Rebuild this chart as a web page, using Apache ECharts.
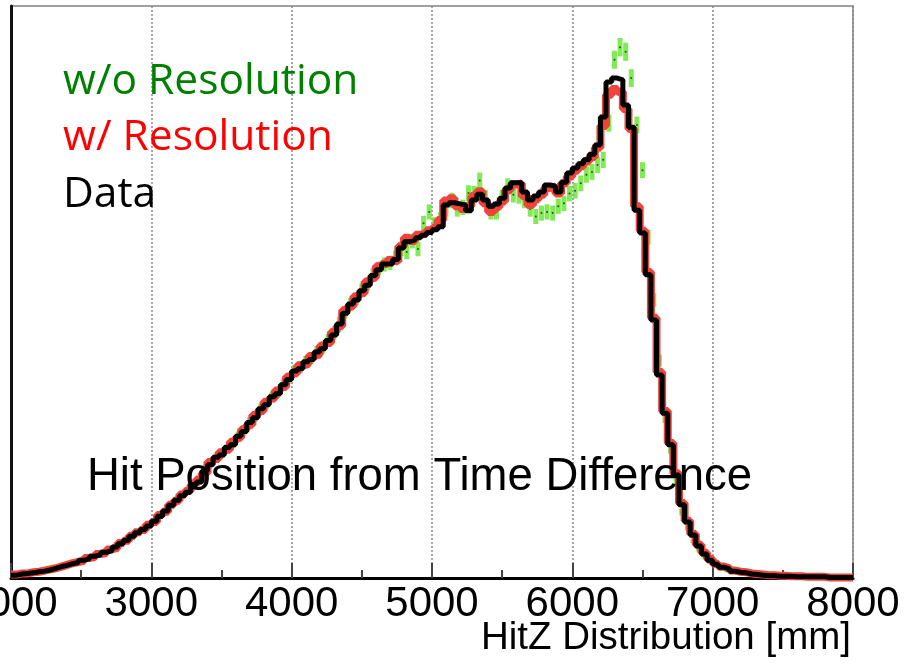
<!DOCTYPE html>
<html>
<head>
<meta charset="utf-8">
<script src="https://cdn.jsdelivr.net/npm/echarts@6/dist/echarts.min.js"></script>
<style>html,body{margin:0;padding:0;background:#fff;}#c{width:907px;height:666px;}</style>
</head>
<body>
<div id="c"></div>
<script>
// Histogram bins: 150 bins of 40 mm from 2000 to 8000 mm
const binStart = 2000;
const binWidth = 40;
const xTicks = [2000, 3000, 4000, 5000, 6000, 7000, 8000];

const dataCounts = [
  5,7,8,9,11,12,14,17,20,22,
  25,27,31,34,38,41,45,48,54,60,
  66,73,79,85,91,99,108,117,127,136,
  144,150,163,168,187,198,211,215,228,233,
  248,256,272,280,296,303,317,322,338,347,
  362,366,378,382,395,401,415,425,444,463,
  479,486,502,512,529,539,549,549,557,577,
  588,591,595,599,604,609,614,652,656,654,
  652,642,661,671,661,650,654,664,682,691,
  691,675,661,668,675,687,685,675,692,708,
  717,724,731,741,757,806,867,874,871,827,
  788,643,603,530,451,355,288,233,180,128,
  98,75,56,42,31,24,19,16,12,10,
  9,7,6,5,4,4,3,3,3,2,
  2,2,2,2,2,1,1,1,1,1
];

const withResolution = [
  6,8,8,10,11,13,15,17,20,23,
  26,28,30,35,37,42,44,50,53,61,
  65,74,80,84,93,98,110,116,128,135,
  146,152,163,172,183,203,208,220,224,238,
  245,260,268,285,292,308,314,328,334,352,
  358,372,374,388,391,406,411,430,440,468,
  475,492,498,518,525,545,549,556,553,580,
  595,589,600,603,608,612,626,660,664,650,
  645,650,668,676,655,640,648,658,678,688,
  690,668,652,662,670,682,684,672,690,702,
  712,720,728,736,752,790,845,855,850,820,
  785,650,607,535,455,360,292,236,183,131,
  100,77,58,44,33,25,20,17,13,11,
  10,8,7,6,5,5,4,4,3,3,
  3,2,2,2,2,1,1,1,1,1
];

const withoutResolution = [
  5,7,9,9,12,12,15,17,21,22,
  26,27,32,34,39,41,46,48,55,60,
  67,73,80,85,92,99,109,117,128,136,
  146,153,162,170,186,201,210,217,227,235,
  248,258,272,282,296,305,317,324,338,349,
  362,368,378,384,395,403,416,427,445,465,
  478,488,503,514,530,541,548,551,560,575,
  570,589,575,620,640,618,626,645,660,645,
  648,673,672,695,665,640,640,665,685,670,
  668,660,645,632,638,640,638,650,655,672,
  677,690,705,710,722,731,795,906,928,920,
  874,792,713,596,486,380,280,225,170,115,
  88,65,50,37,27,20,15,12,9,7,
  6,5,4,3,3,2,2,2,1,1,
  1,1,1,1,1,1,1,1,1,1
];

const legendLabels = ['w/o Resolution', 'w/ Resolution', 'Data'];
const caption = 'Hit Position from Time Difference';
const xTitle = 'HitZ Distribution [mm]';

function stepData(vals) {
  const pts = vals.map((v, i) => [binStart + i * binWidth, v]);
  pts.push([binStart + vals.length * binWidth, vals[vals.length - 1]]);
  return pts;
}
function centerData(vals) {
  return vals.map((v, i) => [binStart + (i + 0.5) * binWidth, v]);
}
// error-bar height grows with sqrt(count)
function errSize(val) {
  return [5, Math.max(1, 0.6 * Math.sqrt(val[1]))];
}

const chart = echarts.init(document.getElementById('c'), null, {renderer: 'canvas'});
chart.setOption({
  animation: false,
  backgroundColor: '#fff',
  grid: {left: 11, right: 54, top: 6, bottom: 88, containLabel: false, outerBoundsMode: 'none',
    show: true, borderColor: '#a0a0a0', borderWidth: 2, backgroundColor: 'transparent'},
  xAxis: {
    type: 'value', min: xTicks[0], max: xTicks[xTicks.length - 1], interval: 1000,
    axisLine: {show: true, lineStyle: {color: '#000', width: 3}},
    axisTick: {show: true, inside: true, length: 15, lineStyle: {color: '#444', width: 2}},
    minorTick: {show: true, splitNumber: 2, length: 8, lineStyle: {color: '#444', width: 2}},
    splitLine: {show: true, lineStyle: {type: [2, 2], color: '#888', width: 1.5}},
    axisLabel: {show: true, fontSize: 42, color: '#000', fontFamily: 'Liberation Sans', margin: 5,
      showMinLabel: true, showMaxLabel: true, hideOverlap: false, formatter: v => String(v)}
  },
  yAxis: {
    type: 'value', min: 0, max: 1000,
    axisLine: {show: true, lineStyle: {color: '#111', width: 3}},
    axisTick: {show: false}, axisLabel: {show: false}, splitLine: {show: false}
  },
  graphic: [
    {type: 'text', left: 63, top: 60, style: {text: legendLabels[0], fill: '#008000', font: '42.5px "Open Sans"'}, z: 100},
    {type: 'text', left: 63, top: 116, style: {text: legendLabels[1], fill: '#ff0000', font: '42.5px "Open Sans"'}, z: 100},
    {type: 'text', left: 63, top: 173, style: {text: legendLabels[2], fill: '#000', font: '42.5px "Open Sans"'}, z: 100},
    {type: 'text', x: 87, y: 477, style: {text: caption, fill: '#000', font: '45.5px "Liberation Sans"', textAlign: 'left', textVerticalAlign: 'middle'}, z: 100},
    {type: 'text', x: 851, y: 638, style: {text: xTitle, fill: '#000', font: '38.5px "Liberation Sans"', textAlign: 'right', textVerticalAlign: 'middle'}, z: 100}
  ],
  series: [
    {type: 'scatter', data: centerData(withoutResolution), symbol: 'rect', symbolSize: errSize,
      itemStyle: {color: '#62e62a'}, silent: true, z: 2},
    {type: 'scatter', data: centerData(withoutResolution), symbol: 'circle', symbolSize: 2,
      itemStyle: {color: '#222'}, silent: true, z: 2},
    {type: 'line', data: stepData(withResolution), step: 'end', showSymbol: false,
      lineStyle: {color: '#f2433a', width: 8}, silent: true, z: 3},
    {type: 'line', data: stepData(dataCounts), step: 'end', showSymbol: false,
      lineStyle: {color: '#000', width: 5}, silent: true, z: 4}
  ]
});
</script>
</body>
</html>
